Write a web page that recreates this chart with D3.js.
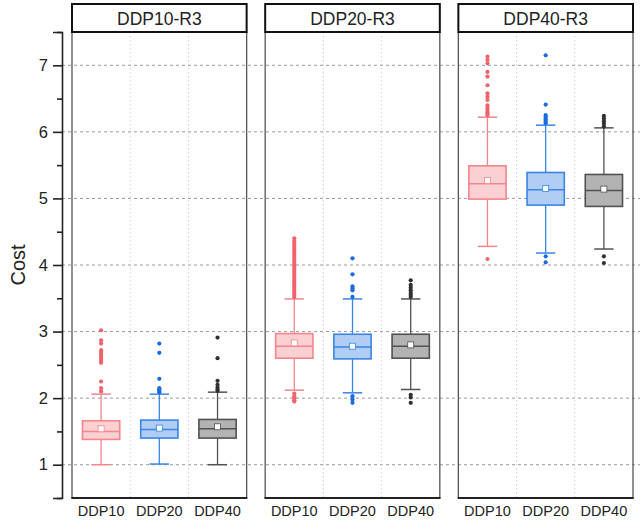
<!DOCTYPE html>
<html>
<head>
<meta charset="utf-8">
<style>
    body { margin: 0; background: #fff; }
    svg { display: block; font-family: 'Liberation Sans', Arial, sans-serif; }
    .y .domain { stroke: #222; stroke-width: 1.6px; }
    .y .tick line { stroke: #222; stroke-width: 1.6px; }
    .y .tick text { font-size: 16.5px; fill: #222; }
    .minor .tick text { display: none; }
    .minor .domain { display: none; }
</style>
</head>
<body>
<svg width="640" height="523"></svg>
<script src="https://d3js.org/d3.v7.min.js"></script>
<script>
    let width = 640;
    let height = 523;

    // data
    const panels = ["DDP10-R3", "DDP20-R3", "DDP40-R3"];
    const methods = ["DDP10", "DDP20", "DDP40"];
    const yTicks = [1, 2, 3, 4, 5, 6, 7];
    const yMinor = [0.5, 1.5, 2.5, 3.5, 4.5, 5.5, 6.5, 7.5];

    // rows = panels, columns = methods
    const q1 = [[1.38, 1.40, 1.40], [2.60, 2.59, 2.60], [4.99, 4.90, 4.88]];
    const median = [[1.50, 1.53, 1.54], [2.78, 2.77, 2.78], [5.22, 5.13, 5.12]];
    const q3 = [[1.66, 1.67, 1.68], [2.97, 2.96, 2.96], [5.49, 5.39, 5.36]];
    const mean = [[1.54, 1.55, 1.57], [2.83, 2.78, 2.80], [5.27, 5.15, 5.14]];
    const whiskLow = [[1.00, 1.01, 1.00], [2.12, 2.08, 2.13], [4.28, 4.18, 4.24]];
    const whiskHigh = [[2.06, 2.06, 2.09], [3.49, 3.49, 3.49], [6.22, 6.10, 6.06]];
    const outliers = [
        [
            [2.10, 2.15, 2.25, 2.53, 2.56, 2.59, 2.62, 2.65, 2.68, 2.72, 2.82, 2.87, 3.02],
            [2.09, 2.11, 2.13, 2.15, 2.29, 2.68, 2.82],
            [2.11, 2.13, 2.16, 2.20, 2.26, 2.60, 2.91]
        ],
        [
            [3.52, 3.55, 3.58, 3.61, 3.64, 3.67, 3.70, 3.73, 3.76, 3.79, 3.82, 3.85, 3.88, 3.91,
             3.94, 3.97, 4.00, 4.03, 4.06, 4.09, 4.12, 4.15, 4.18, 4.21, 4.24, 4.27, 4.30,
             4.33, 4.36, 4.40, 2.07, 2.03, 2.00, 1.97, 1.95],
            [3.52, 3.62, 3.65, 3.68, 3.86, 4.10, 2.03, 1.98, 1.93],
            [3.52, 3.55, 3.58, 3.62, 3.66, 3.70, 3.77, 2.05, 2.01, 1.93]
        ],
        [
            [6.25, 6.28, 6.30, 6.33, 6.36, 6.40, 6.48, 6.53, 6.58, 6.70, 6.83, 6.90, 7.03, 7.08, 7.13, 4.09],
            [6.13, 6.16, 6.19, 6.22, 6.25, 6.41, 7.15, 4.13, 4.04],
            [6.08, 6.12, 6.16, 6.20, 6.24, 4.13, 4.03]
        ]
    ];

    const strokeCol = ["#f4858b", "#3a85e6", "#525252"];
    const fillCol = ["#fad0d3", "#b0cdf3", "#b3b3b3"];
    const dotCol = ["#f0636b", "#1a6be0", "#303030"];

    let svg = d3.select("svg");

    let margin = { top: 32, bottom: 498, left: 62 };

    let y = d3.scaleLinear()
        .domain([0.5, 7.5])
        .range([margin.bottom, margin.top]);

    let xPanel = d3.scaleBand()
        .domain(panels)
        .range([72, 633])
        .paddingInner(0.096);

    let xMethod = d3.scaleBand()
        .domain(methods)
        .range([0, xPanel.bandwidth()]);

    let boxW = xMethod.bandwidth() * 0.64;
    let capW = boxW * 0.52;

    // horizontal dashed grid
    svg.append("g")
        .selectAll("line")
        .data(yTicks)
        .join("line")
        .attr("x1", margin.left)
        .attr("x2", width)
        .attr("y1", d => y(d))
        .attr("y2", d => y(d))
        .style("stroke", "#9a9a9a")
        .style("stroke-width", 1)
        .style("stroke-dasharray", "3,3");

    // y axis
    svg.append("g")
        .attr("class", "y axis")
        .attr("transform", `translate(${margin.left},0)`)
        .call(d3.axisLeft(y).tickValues(yTicks).tickSize(9).tickPadding(5).tickFormat(d3.format("d")));

    svg.append("g")
        .attr("class", "y minor")
        .attr("transform", `translate(${margin.left},0)`)
        .call(d3.axisLeft(y).tickValues(yMinor).tickSize(5).tickFormat(""));

    svg.append("text")
        .attr("transform", `translate(25, ${(margin.top + margin.bottom) / 2}) rotate(-90)`)
        .attr("text-anchor", "middle")
        .style("font-size", "20px")
        .style("fill", "#222")
        .text("Cost");

    panels.forEach(function (p, pi) {
        let g = svg.append("g")
            .attr("transform", `translate(${xPanel(p)},0)`);
        let bw = xPanel.bandwidth();

        // vertical dotted grid at method boundaries
        g.selectAll(".vgrid")
            .data(methods.slice(1))
            .join("line")
            .attr("class", "vgrid")
            .attr("x1", d => xMethod(d))
            .attr("x2", d => xMethod(d))
            .attr("y1", margin.top)
            .attr("y2", margin.bottom)
            .style("stroke", "#cfcfcf")
            .style("stroke-dasharray", "1.5,2.5");

        // side frame lines
        g.selectAll(".side")
            .data([0, bw])
            .join("line")
            .attr("class", "side")
            .attr("x1", d => d)
            .attr("x2", d => d)
            .attr("y1", margin.top)
            .attr("y2", margin.bottom)
            .style("stroke", "#555")
            .style("stroke-width", 1.3);

        g.append("line")
            .attr("x1", -0.7)
            .attr("x2", bw + 0.7)
            .attr("y1", margin.bottom)
            .attr("y2", margin.bottom)
            .style("stroke", "#222")
            .style("stroke-width", 2.2);

        // header strip
        g.append("rect")
            .attr("x", 0)
            .attr("y", 4)
            .attr("width", bw)
            .attr("height", margin.top - 4)
            .style("fill", "#fff")
            .style("stroke", "#111")
            .style("stroke-width", 2);

        g.append("text")
            .attr("x", bw / 2)
            .attr("y", 24.5)
            .attr("text-anchor", "middle")
            .style("font-size", "17.5px")
            .style("fill", "#222")
            .text(p);

        methods.forEach(function (m, mi) {
            let cx = xMethod(m) + xMethod.bandwidth() / 2;
            let sc = strokeCol[mi];

            // whiskers
            g.append("line")
                .attr("x1", cx).attr("x2", cx)
                .attr("y1", y(q3[pi][mi])).attr("y2", y(whiskHigh[pi][mi]))
                .style("stroke", sc).style("stroke-width", 1.3);
            g.append("line")
                .attr("x1", cx).attr("x2", cx)
                .attr("y1", y(q1[pi][mi])).attr("y2", y(whiskLow[pi][mi]))
                .style("stroke", sc).style("stroke-width", 1.3);
            g.selectAll(".cap" + mi)
                .data([whiskLow[pi][mi], whiskHigh[pi][mi]])
                .join("line")
                .attr("x1", cx - capW / 2).attr("x2", cx + capW / 2)
                .attr("y1", d => y(d)).attr("y2", d => y(d))
                .style("stroke", sc).style("stroke-width", 1.5);

            // box
            g.append("rect")
                .attr("x", cx - boxW / 2)
                .attr("y", y(q3[pi][mi]))
                .attr("width", boxW)
                .attr("height", y(q1[pi][mi]) - y(q3[pi][mi]))
                .style("fill", fillCol[mi])
                .style("stroke", sc)
                .style("stroke-width", 1.6);

            g.append("line")
                .attr("x1", cx - boxW / 2).attr("x2", cx + boxW / 2)
                .attr("y1", y(median[pi][mi])).attr("y2", y(median[pi][mi]))
                .style("stroke", sc).style("stroke-width", 1.5);

            // mean marker
            g.append("rect")
                .attr("x", cx - 3)
                .attr("y", y(mean[pi][mi]) - 3)
                .attr("width", 6)
                .attr("height", 6)
                .style("fill", "#fff")
                .style("stroke", sc)
                .style("stroke-width", 0.8);

            // outliers
            g.selectAll(".out" + mi)
                .data(outliers[pi][mi])
                .join("circle")
                .attr("cx", cx)
                .attr("cy", d => y(d))
                .attr("r", 2.1)
                .style("fill", dotCol[mi]);

            // x labels
            g.append("text")
                .attr("x", cx)
                .attr("y", 516)
                .attr("text-anchor", "middle")
                .style("font-size", "14.5px")
                .style("fill", "#222")
                .text(m);
        });
    });
</script>
</body>
</html>
